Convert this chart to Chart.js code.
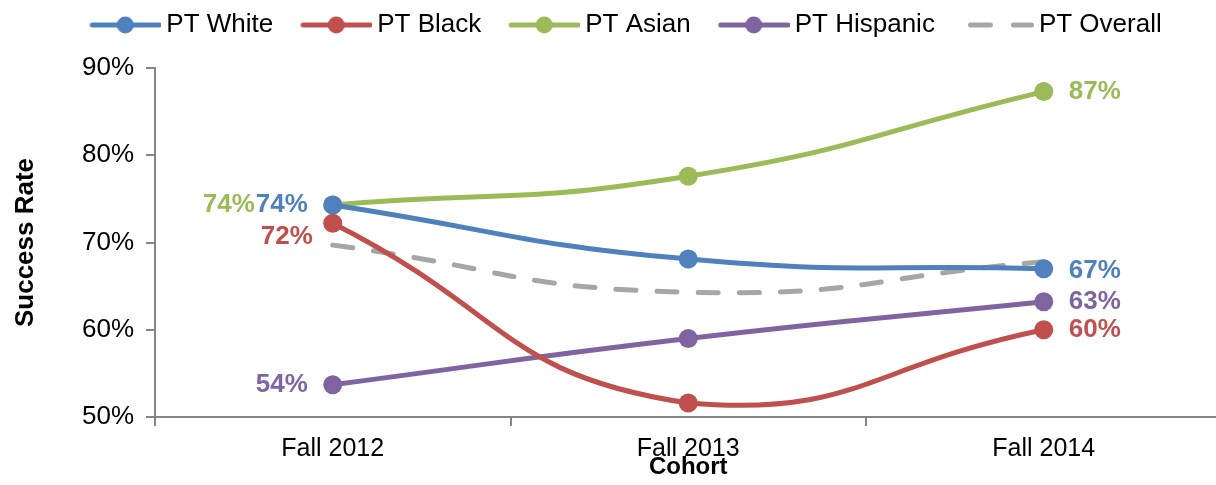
<!DOCTYPE html>
<html>
<head>
<meta charset="utf-8">
<script src="https://cdn.jsdelivr.net/npm/chart.js@4.4.1/dist/chart.umd.min.js"></script>
<style>
  html, body { margin: 0; padding: 0; background: #fff; overflow: hidden; }
  #wrap { width: 1231px; height: 485px; }
</style>
</head>
<body>
<div id="wrap"><canvas id="c"></canvas></div>
<script>
const cohorts = ['Fall 2012', 'Fall 2013', 'Fall 2014'];
const white = [74.3, 68.1, 67.0];
const black = [72.2, 51.6, 60.0];
const asian = [74.3, 77.6, 87.3];
const hispanic = [53.7, 59.0, 63.2];
const overall = [69.7, 64.3, 67.8];
const yTicks = [50, 60, 70, 80, 90];

const FONT = '"Liberation Sans", Arial, sans-serif';

// small line+marker picture used as legend symbol
function legendIcon(color, dashed) {
  const c = document.createElement('canvas');
  c.width = 72; c.height = 22;
  const g = c.getContext('2d');
  g.strokeStyle = color;
  g.lineWidth = 5;
  g.lineCap = 'round';
  g.beginPath();
  if (dashed) {
    g.moveTo(8.5, 11); g.lineTo(28.5, 11);
    g.moveTo(51.5, 11); g.lineTo(69.5, 11);
    g.stroke();
  } else {
    g.moveTo(3, 11); g.lineTo(70, 11);
    g.stroke();
    g.fillStyle = color;
    g.beginPath();
    g.arc(36, 11, 8.5, 0, Math.PI * 2);
    g.fill();
  }
  return c;
}

function series(label, data, color, labels, dashed) {
  return {
    label: label,
    data: data,
    borderColor: color,
    backgroundColor: color,
    borderWidth: 5,
    borderDash: dashed ? [20, 21] : [],
    borderCapStyle: dashed ? 'round' : 'butt',
    pointRadius: dashed ? 0 : 9.5,
    pointHoverRadius: dashed ? 0 : 9.5,
    pointBorderWidth: 0,
    tension: 0.5,
    legendIcon: legendIcon(color, dashed),
    valueLabels: labels
  };
}

// draws the value labels next to chosen points
const valueLabelPlugin = {
  id: 'valueLabels',
  afterDatasetsDraw(chart) {
    const ctx = chart.ctx;
    ctx.save();
    ctx.font = 'bold 26px ' + FONT;
    ctx.textBaseline = 'middle';
    chart.data.datasets.forEach((ds, di) => {
      const meta = chart.getDatasetMeta(di);
      (ds.valueLabels || []).forEach(l => {
        const pt = meta.data[l.i];
        ctx.fillStyle = ds.borderColor;
        ctx.textAlign = l.dx < 0 ? 'right' : 'left';
        ctx.fillText(Math.round(ds.data[l.i]) + '%', pt.x + l.dx, pt.y + (l.dy || 0));
      });
    });
    ctx.restore();
  }
};

// taller legend box, and nudge it to where the original has it
const legendTweak = {
  id: 'legendTweak',
  beforeInit(chart) {
    const lg = chart.legend;
    const fit = lg.fit;
    lg.fit = function () { fit.call(this); this.height = 68; };
  },
  afterLayout(chart) {
    chart.legend.left += 14;
    chart.legend.right += 14;
    chart.legend.top -= 23;
  }
};

new Chart(document.getElementById('c'), {
  type: 'line',
  data: {
    labels: cohorts,
    datasets: [
      series('PT White', white, '#4F81BD', [{ i: 0, dx: -25 }, { i: 2, dx: 25, dy: 2 }]),
      series('PT Black', black, '#C0504D', [{ i: 0, dx: -20, dy: 14 }, { i: 2, dx: 25 }]),
      series('PT Asian', asian, '#9BBB59', [{ i: 0, dx: -78 }, { i: 2, dx: 25 }]),
      series('PT Hispanic', hispanic, '#8064A2', [{ i: 0, dx: -25 }, { i: 2, dx: 25 }]),
      series('PT Overall', overall, '#A6A6A6', [], true)
    ]
  },
  options: {
    responsive: true,
    maintainAspectRatio: false,
    animation: false,
    plugins: {
      legend: {
        position: 'top',
        labels: {
          usePointStyle: true,
          pointStyleWidth: 56,
          padding: 35,
          color: '#000',
          font: { family: FONT, size: 26 },
          generateLabels(chart) {
            const items = Chart.defaults.plugins.legend.labels.generateLabels(chart);
            items.forEach(it => { it.pointStyle = chart.data.datasets[it.datasetIndex].legendIcon; });
            return items;
          }
        }
      },
      tooltip: { enabled: false }
    },
    scales: {
      x: {
        offset: true,
        grid: { offset: true, drawOnChartArea: false, tickLength: 9, color: '#868686', lineWidth: 2 },
        border: { color: '#868686', width: 2 },
        ticks: { color: '#000', font: { family: FONT, size: 25 }, padding: 8 },
        title: { display: true, text: 'Cohort', color: '#000', font: { family: FONT, size: 24, weight: 'bold', lineHeight: 1 }, padding: { top: 0, bottom: 6 } },
        afterFit(s) { s.height = 68; }
      },
      y: {
        min: 50,
        max: 90,
        afterBuildTicks(s) { s.ticks = yTicks.map(v => ({ value: v })); },
        grid: { drawOnChartArea: false, tickLength: 9, color: '#868686', lineWidth: 2 },
        border: { color: '#868686', width: 2 },
        ticks: { color: '#000', font: { family: FONT, size: 26 }, padding: 12, callback: v => v + '%' },
        title: { display: true, text: 'Success Rate', color: '#000', font: { family: FONT, size: 26, weight: 'bold', lineHeight: 1 }, padding: { top: 13, bottom: 0 } },
        afterFit(s) { s.width = 155; }
      }
    }
  },
  plugins: [valueLabelPlugin, legendTweak]
});
</script>
</body>
</html>
